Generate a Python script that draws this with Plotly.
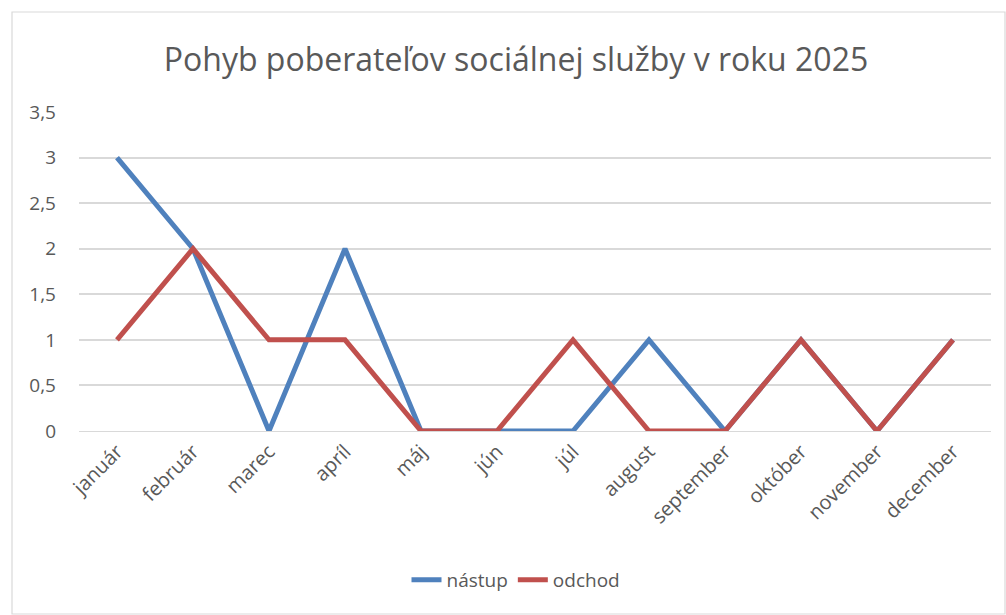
import plotly.graph_objects as go

months = ["január", "február", "marec", "apríl", "máj", "jún", "júl",
          "august", "september", "október", "november", "december"]
nastup = [3, 2, 0, 2, 0, 0, 0, 1, 0, 1, 0, 1]
odchod = [1, 2, 1, 1, 0, 0, 1, 0, 0, 1, 0, 1]

W, H = 1006, 615
L, R, T, B = 79, 15, 112, 184
pw, ph = W - L - R, H - T - B

def px(x):
    return (x - L) / pw

def py(y):
    return (H - B - y) / ph

font = "Open Sans, Noto Sans, sans-serif"
grey = "#595959"

fig = go.Figure()
fig.add_trace(go.Scatter(x=months, y=nastup, mode="lines", name="nástup",
                         line=dict(color="#4F81BD", width=5)))
fig.add_trace(go.Scatter(x=months, y=odchod, mode="lines", name="odchod",
                         line=dict(color="#C0504D", width=5)))

fig.update_layout(
    width=W, height=H,
    margin=dict(l=L, r=R, t=T, b=B),
    paper_bgcolor="white", plot_bgcolor="white",
    separators=", ",
    font=dict(family=font, color=grey, size=18),
    title=dict(text="Pohyb poberateľov sociálnej služby v roku 2025",
               x=516 / W, xanchor="center", xref="container",
               y=1 - 60 / H, yanchor="middle", yref="container",
               font=dict(size=32, color=grey, family=font)),
    xaxis=dict(type="category", tickangle=-45, showgrid=False,
               showline=True, linecolor="#D9D9D9", linewidth=1,
               ticks="", tickfont=dict(size=20, color=grey),
               range=[-0.5, 11.5], fixedrange=True),
    yaxis=dict(range=[0, 3.5], dtick=0.5, tick0=0, showgrid=True,
               gridcolor="#D9D9D9", gridwidth=1.5, zeroline=False,
               showline=False, ticks="", tickfont=dict(size=19, color=grey),
               ticklabelstandoff=22, fixedrange=True),
    legend=dict(orientation="h", x=px(516), xanchor="center",
                y=py(580), yanchor="middle", font=dict(size=19, color=grey),
                itemwidth=30, tracegroupgap=0),
    showlegend=True,
    shapes=[dict(type="rect", xref="paper", yref="paper",
                 x0=px(12), x1=px(1005), y0=py(614), y1=py(12),
                 line=dict(color="#D9D9D9", width=1.2), layer="below")],
)

fig.write_html("out.html", config={"displayModeBar": False},
               post_script="document.body.style.margin='0';")
